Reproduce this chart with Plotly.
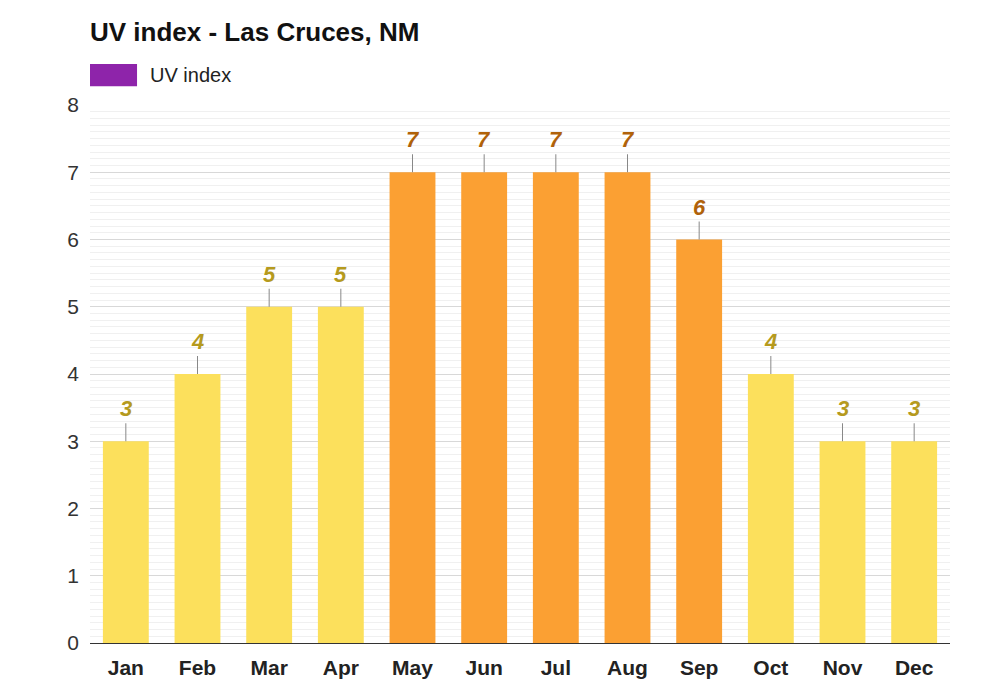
import plotly.graph_objects as go

months = ["Jan","Feb","Mar","Apr","May","Jun","Jul","Aug","Sep","Oct","Nov","Dec"]
uv = [3,4,5,5,7,7,7,7,6,4,3,3]
series_name = "UV index"

bar_colors = ["#fba033" if v >= 6 else "#fce05c" for v in uv]
lab_colors = ["#b0620a" if v >= 6 else "#b59a1e" for v in uv]

fig = go.Figure()
fig.add_trace(go.Bar(x=months, y=uv, marker=dict(color=bar_colors, line=dict(width=0)),
                     name=series_name, showlegend=False, hoverinfo="x+y"))

for m, v, c in zip(months, uv, lab_colors):
    fig.add_annotation(x=m, y=v, text=f"<b><i>{v}</i></b>", showarrow=True, arrowhead=0,
                       arrowwidth=1, arrowcolor="#888", ax=0, ay=-18, standoff=0,
                       yanchor="bottom", font=dict(size=22, color=c, family="Liberation Sans"))

# legend swatch + label
fig.add_shape(type="rect", xref="paper", yref="paper", x0=0, x1=0.0547, y0=1.035, y1=1.076,
              fillcolor="#8e24aa", line=dict(width=0))
fig.add_annotation(xref="paper", yref="paper", x=0.067, y=1.056, text=series_name, showarrow=False,
                   xanchor="left", yanchor="middle", font=dict(size=20, color="#222", family="Liberation Sans"))

fig.update_layout(
    width=1000, height=700, plot_bgcolor="white", paper_bgcolor="white",
    margin=dict(l=82, r=58, t=97, b=65),
    bargap=0.36, showlegend=False,
    title=dict(text="<b>UV index - Las Cruces, NM</b>", x=0.082, xanchor="left", y=0.966,
               yanchor="middle", font=dict(size=26, color="#111", family="Liberation Sans")),
    font=dict(family="Liberation Sans"),
)
fig.update_yaxes(range=[0, 8], dtick=1, gridcolor="#d8d8d8", tickfont=dict(size=21, color="#333"),
                 ticklabelstandoff=10, zeroline=False, showline=False,
                 minor=dict(dtick=0.1, showgrid=True, gridcolor="#f0f0f0", gridwidth=1))
fig.update_xaxes(showline=True, linecolor="#333", tickfont=dict(size=21, color="#222",
                 family="Liberation Sans", weight="bold"), ticks="", showgrid=False,
                 ticklabelstandoff=6)
fig.write_html("out.html")
